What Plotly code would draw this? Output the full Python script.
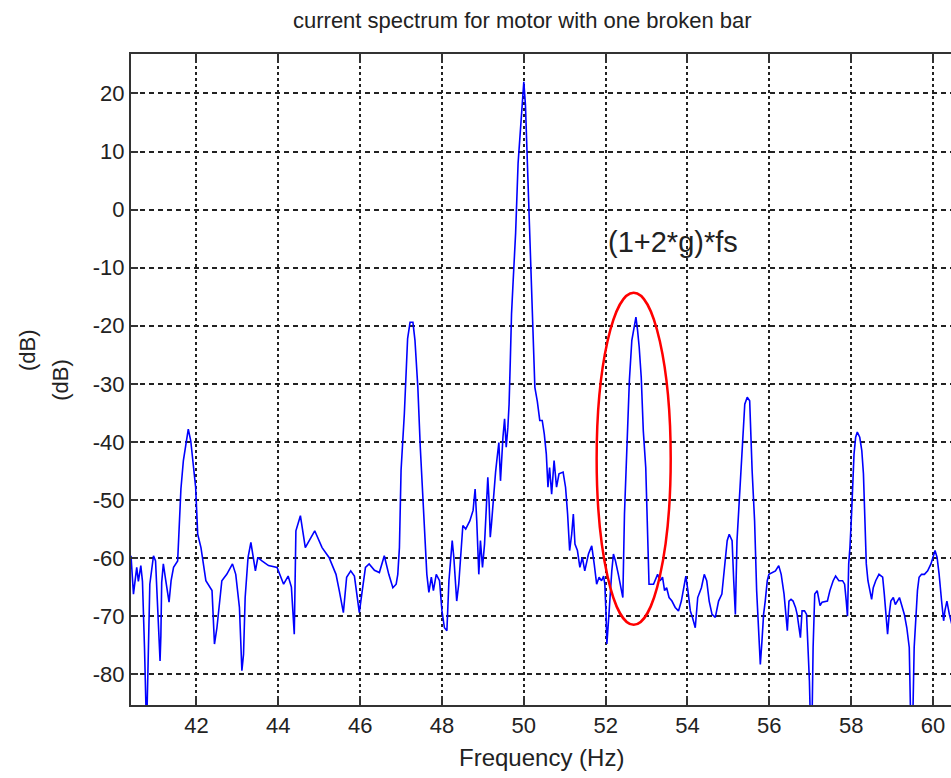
import plotly.graph_objects as go

# ---- data ----
freq_hz = [
    40.40, 40.46, 40.54, 40.58, 40.64, 40.68, 40.73, 40.78, 40.81, 40.86, 40.95, 41.00,
    41.11, 41.13, 41.15, 41.19, 41.25, 41.33, 41.38, 41.44, 41.54, 41.58, 41.62, 41.68,
    41.74, 41.80, 41.86, 41.94, 41.98, 42.03, 42.11, 42.23, 42.38, 42.44, 42.50, 42.62,
    42.74, 42.88, 42.96, 43.05, 43.11, 43.15, 43.19, 43.26, 43.33, 43.44, 43.50, 43.60,
    43.76, 43.97, 44.13, 44.24, 44.32, 44.39, 44.43, 44.54, 44.66, 44.89, 45.07, 45.24,
    45.41, 45.49, 45.59, 45.67, 45.77, 45.86, 45.91, 45.98, 46.04, 46.13, 46.22, 46.35,
    46.47, 46.59, 46.70, 46.80, 46.88, 46.92, 46.96, 47.00, 47.08, 47.12, 47.16, 47.22,
    47.29, 47.34, 47.41, 47.47, 47.53, 47.57, 47.63, 47.68, 47.74, 47.79, 47.86, 47.94,
    48.00, 48.06, 48.12, 48.17, 48.20, 48.25, 48.29, 48.33, 48.36, 48.41, 48.45, 48.51,
    48.58, 48.68, 48.76, 48.81, 48.85, 48.90, 48.94, 48.99, 49.04, 49.08, 49.12, 49.15,
    49.18, 49.21, 49.26, 49.31, 49.34, 49.39, 49.43, 49.46, 49.49, 49.53, 49.57, 49.61,
    49.64, 49.67, 49.70, 49.74, 49.80, 49.86, 49.91, 49.96, 50.00, 50.04, 50.08, 50.12,
    50.16, 50.19, 50.23, 50.27, 50.33, 50.39, 50.45, 50.50, 50.55, 50.59, 50.63, 50.68,
    50.74, 50.80, 50.86, 50.96, 51.02, 51.07, 51.12, 51.17, 51.21, 51.25, 51.31, 51.37,
    51.43, 51.49, 51.58, 51.66, 51.72, 51.78, 51.84, 51.90, 51.95, 51.98, 52.01, 52.03,
    52.07, 52.11, 52.15, 52.19, 52.24, 52.31, 52.38, 52.42, 52.46, 52.50, 52.54, 52.58,
    52.64, 52.70, 52.74, 52.78, 52.82, 52.87, 52.92, 52.98, 53.03, 53.06, 53.17, 53.27,
    53.33, 53.39, 53.44, 53.49, 53.55, 53.62, 53.70, 53.78, 53.85, 53.90, 53.96, 54.01,
    54.07, 54.12, 54.19, 54.25, 54.34, 54.41, 54.47, 54.53, 54.60, 54.68, 54.76, 54.84,
    54.91, 54.97, 55.02, 55.09, 55.13, 55.17, 55.21, 55.27, 55.32, 55.36, 55.40, 55.46,
    55.52, 55.58, 55.64, 55.69, 55.74, 55.78, 55.82, 55.86, 55.90, 55.95, 55.99, 56.07,
    56.15, 56.23, 56.29, 56.36, 56.40, 56.44, 56.48, 56.53, 56.58, 56.64, 56.68, 56.72,
    56.76, 56.80, 56.86, 56.91, 56.95, 56.98, 57.01, 57.04, 57.07, 57.11, 57.17, 57.24,
    57.29, 57.42, 57.48, 57.56, 57.62, 57.70, 57.79, 57.84, 57.88, 57.91, 57.94, 57.97,
    58.01, 58.04, 58.07, 58.11, 58.15, 58.21, 58.26, 58.30, 58.33, 58.37, 58.41, 58.45,
    58.50, 58.54, 58.60, 58.68, 58.77, 58.81, 58.85, 58.89, 58.93, 58.97, 59.03, 59.08,
    59.13, 59.18, 59.23, 59.30, 59.36, 59.42, 59.46, 59.50, 59.54, 59.58, 59.62, 59.66,
    59.72, 59.79, 59.87, 59.95, 60.01, 60.05, 60.10, 60.15, 60.21, 60.26, 60.29, 60.34,
    60.40, 60.46,
]
level_db = [
    -59.6, -66.2, -61.6, -64.0, -61.3, -64.0, -75.4, -90.0, -80.6, -64.5, -59.6, -60.5,
    -77.7, -73.4, -64.2, -61.0, -63.9, -67.6, -63.9, -61.6, -60.5, -54.7, -48.1, -43.2,
    -40.4, -37.8, -39.8, -45.0, -47.8, -55.9, -58.2, -63.9, -65.6, -74.8, -72.0, -63.9,
    -62.8, -61.0, -62.8, -68.5, -79.4, -76.6, -66.8, -59.9, -57.3, -62.2, -59.9, -60.5,
    -61.3, -61.6, -64.5, -63.1, -65.0, -73.1, -55.3, -52.7, -58.2, -55.3, -58.2, -59.9,
    -62.8, -65.6, -69.4, -63.3, -62.2, -63.1, -66.2, -69.4, -66.2, -61.6, -61.0, -62.1,
    -62.5, -59.6, -62.8, -65.1, -64.5, -62.8, -58.2, -44.9, -35.2, -28.6, -22.2, -19.4,
    -19.4, -22.5, -30.6, -40.9, -50.1, -56.4, -62.8, -65.9, -63.3, -65.6, -62.8, -63.9,
    -69.1, -72.0, -72.5, -63.9, -61.0, -57.0, -59.9, -63.9, -67.4, -64.5, -59.9, -54.4,
    -55.0, -53.6, -51.8, -48.1, -53.6, -62.8, -57.0, -61.6, -57.6, -51.3, -46.1, -50.1,
    -56.4, -54.1, -49.0, -45.2, -43.2, -40.1, -46.7, -42.1, -39.2, -36.0, -40.9, -37.5,
    -33.5, -26.0, -17.9, -12.2, -4.0, 8.0, 13.0, 19.0, 22.0, 18.0, 9.0, 0.0,
    -8.0, -13.0, -22.5, -30.6, -33.0, -36.3, -36.3, -38.6, -42.1, -47.8, -44.4, -49.0,
    -43.2, -47.8, -45.5, -45.2, -47.8, -52.4, -58.7, -55.9, -52.4, -57.6, -58.7, -61.6,
    -59.9, -62.2, -59.3, -57.9, -61.0, -64.5, -63.3, -63.9, -63.1, -64.5, -69.7, -74.8,
    -70.8, -65.6, -62.2, -59.3, -60.5, -62.8, -65.1, -66.8, -52.4, -44.4, -36.9, -29.4,
    -22.5, -20.2, -18.5, -20.8, -23.7, -28.9, -38.1, -44.4, -56.4, -64.5, -64.5, -62.8,
    -63.9, -63.3, -65.6, -65.1, -66.8, -67.4, -68.5, -69.1, -67.4, -65.1, -63.1, -65.6,
    -69.1, -70.2, -72.0, -66.8, -65.1, -62.8, -63.9, -67.4, -69.7, -70.2, -67.4, -66.2,
    -61.0, -57.0, -55.9, -57.0, -63.9, -69.7, -57.0, -49.0, -42.1, -36.9, -33.5, -32.3,
    -32.9, -45.0, -53.6, -65.6, -74.3, -78.3, -74.3, -69.7, -67.4, -63.9, -62.8, -62.5,
    -62.2, -61.3, -62.8, -66.2, -69.7, -72.5, -67.4, -67.1, -67.4, -68.5, -69.7, -71.4,
    -73.7, -69.1, -69.1, -69.7, -75.4, -81.2, -90.0, -90.0, -75.4, -66.2, -65.6, -68.2,
    -67.6, -67.4, -65.6, -63.9, -63.1, -63.9, -63.9, -64.5, -67.4, -70.0, -61.0, -58.2,
    -52.4, -46.7, -42.1, -39.2, -38.3, -39.2, -41.5, -45.5, -52.4, -61.0, -63.9, -65.6,
    -67.1, -65.1, -63.9, -62.8, -63.3, -66.2, -70.2, -73.1, -69.7, -67.4, -66.8, -68.0,
    -67.4, -66.8, -68.0, -69.7, -72.0, -75.4, -90.0, -90.0, -75.4, -70.8, -65.6, -63.3,
    -62.8, -62.8, -62.2, -61.0, -59.3, -58.7, -59.9, -62.8, -67.4, -70.8, -69.1, -67.4,
    -69.7, -71.4,
]

x_tick_vals = [42, 44, 46, 48, 50, 52, 54, 56, 58, 60]
x_tick_text = ["42", "44", "46", "48", "50", "52", "54", "56", "58", "60"]
y_tick_vals = [20, 10, 0, -10, -20, -30, -40, -50, -60, -70, -80]
y_tick_text = ["20", "10", "0", "-10", "-20", "-30", "-40", "-50", "-60", "-70", "-80"]

title_text = "current spectrum for motor with one broken bar"
x_label = "Frequency (Hz)"
y_label = "(dB)"
note_text = "(1+2*g)*fs"

# highlighted sideband region (data coordinates)
ellipse_x = [51.78, 53.59]
ellipse_y = [-71.5, -14.3]
note_pos = (52.0, -5.5)

FONT = "Arial, Liberation Sans, sans-serif"
INK = "#222222"

fig = go.Figure()
fig.add_trace(go.Scatter(
    x=freq_hz, y=level_db, mode="lines",
    line=dict(color="#0000ff", width=1.6),
    showlegend=False, hoverinfo="x+y",
))

fig.add_shape(type="circle", xref="x", yref="y",
              x0=ellipse_x[0], x1=ellipse_x[1], y0=ellipse_y[0], y1=ellipse_y[1],
              line=dict(color="#ff0000", width=2.5))

fig.add_annotation(x=note_pos[0], y=note_pos[1], xref="x", yref="y",
                   text=note_text, showarrow=False, xanchor="left", yanchor="middle",
                   font=dict(family=FONT, size=29, color=INK))

fig.add_annotation(x=0.478, y=1.052, xref="paper", yref="paper", text=title_text,
                   showarrow=False, xanchor="center", yanchor="middle",
                   font=dict(family=FONT, size=22, color=INK))
fig.add_annotation(x=0.5, y=-0.08, xref="paper", yref="paper", text=x_label,
                   showarrow=False, xanchor="center", yanchor="middle",
                   font=dict(family=FONT, size=24, color=INK))
fig.add_annotation(x=-0.127, y=0.545, xref="paper", yref="paper", text=y_label,
                   showarrow=False, textangle=-90, xanchor="center", yanchor="middle",
                   font=dict(family=FONT, size=22, color=INK))
fig.add_annotation(x=-0.087, y=0.499, xref="paper", yref="paper", text=y_label,
                   showarrow=False, textangle=-90, xanchor="center", yanchor="middle",
                   font=dict(family=FONT, size=22, color=INK))

fig.update_xaxes(
    range=[40.40, 60.44], tickvals=x_tick_vals, ticktext=x_tick_text,
    showgrid=True, gridcolor="#222222", gridwidth=1.5, griddash="3px,3px",
    zeroline=False, showline=True, linecolor="#333333", linewidth=2, mirror="ticks",
    ticks="inside", ticklen=9, tickwidth=2, tickcolor="#333333",
    tickfont=dict(family=FONT, size=22, color=INK),
)
fig.update_yaxes(
    range=[-85.3, 26.8], tickvals=y_tick_vals, ticktext=y_tick_text,
    showgrid=True, gridcolor="#222222", gridwidth=1.5, griddash="5px,4px",
    zeroline=False, showline=True, linecolor="#333333", linewidth=2,
    ticks="inside", ticklen=7, tickwidth=1.5, tickcolor="#333333",
    tickfont=dict(family=FONT, size=22, color=INK),
)

fig.update_layout(
    width=951, height=778,
    margin=dict(l=131, r=0, t=54, b=73),
    paper_bgcolor="white", plot_bgcolor="white",
)

fig.write_html("out.html")
